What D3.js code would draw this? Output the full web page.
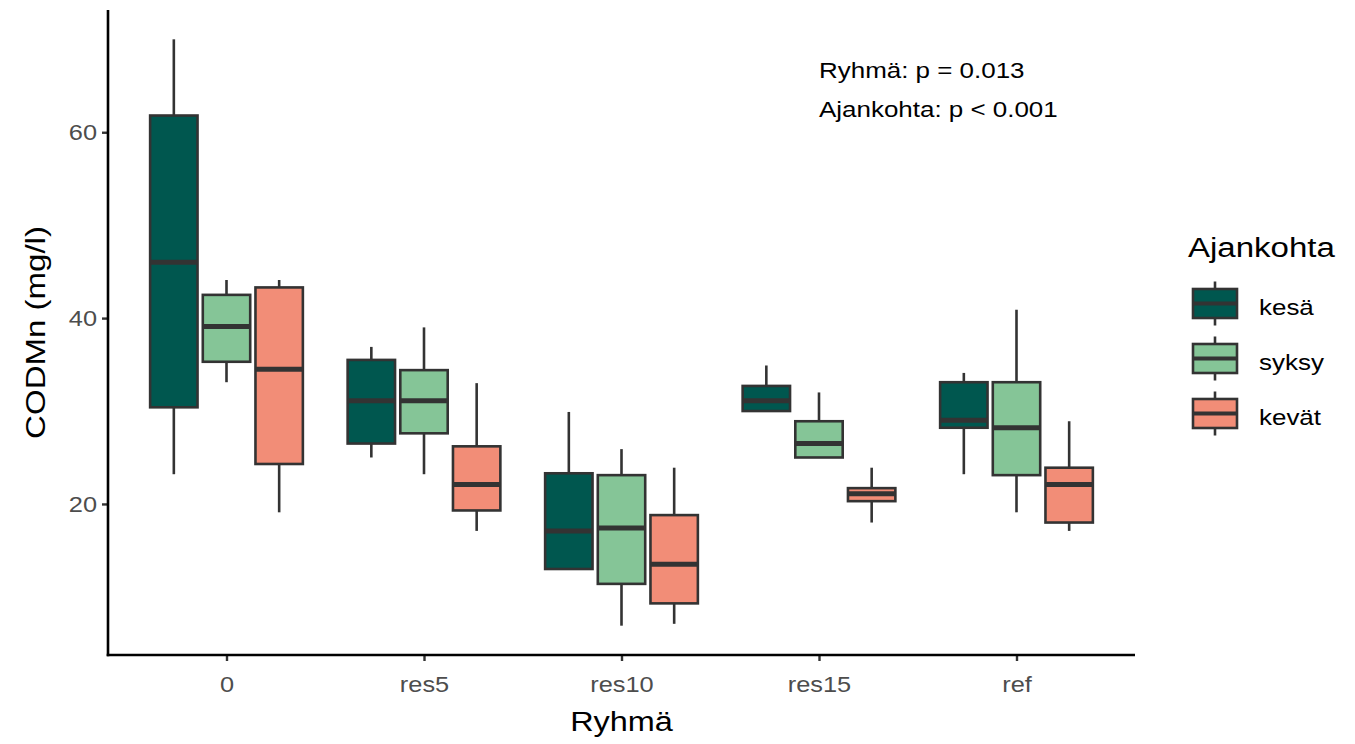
<!DOCTYPE html>
<html>
<head>
<meta charset="utf-8">
<script src="https://cdn.jsdelivr.net/npm/d3@7"></script>
<style>
  body { margin: 0; background: #ffffff; }
  text { font-family: "Liberation Sans", Arial, sans-serif; }
</style>
</head>
<body>
<svg id="chart" width="1355" height="744"></svg>
<script>
// Groups on the x axis and sampling seasons (dodged boxes)
const groups = ["0", "res5", "res10", "res15", "ref"];
const seasons = ["kesä", "syksy", "kevät"];
const seasonColors = ["#00574F", "#85C597", "#F28D77"];

// Box summaries per group: [lower whisker, Q1, median, Q3, upper whisker]
const kesa  = [[23.2, 30.4, 46.0, 61.8, 70.0], [25.0, 26.5, 31.1, 35.5, 36.9], [13.0, 13.0, 17.1, 23.3, 29.9], [30.0, 30.0, 31.1, 32.7, 34.9], [23.2, 28.2, 29.0, 33.1, 34.1]];
const syksy = [[33.1, 35.3, 39.1, 42.5, 44.1], [23.2, 27.6, 31.1, 34.4, 39.0], [6.9, 11.4, 17.4, 23.1, 25.9], [25.0, 25.0, 26.5, 28.9, 32.0], [19.1, 23.1, 28.2, 33.1, 40.9]];
const kevat = [[19.1, 24.3, 34.5, 43.3, 44.1], [17.1, 19.3, 22.1, 26.2, 33.0], [7.1, 9.3, 13.5, 18.8, 23.9], [18.0, 20.3, 21.1, 21.7, 23.9], [17.1, 18.0, 22.1, 23.9, 28.9]];

const yTicks = [20, 40, 60];
const annotations = ["Ryhmä: p = 0.013", "Ajankohta: p < 0.001"];
const xTitle = "Ryhmä";
const yTitle = "CODMn (mg/l)";
const legendTitle = "Ajankohta";

const seriesValues = [kesa, syksy, kevat];

// Layout
const plot = { left: 108, right: 1135, top: 10, bottom: 655 };
const STRETCH = 1.18;          // horizontal widening of the text glyphs
const INK = "#333333";
const LINE_W = 2.6;            // box outline and whisker width
const MED_W = 5;               // median bar width

const svg = d3.select("#chart");

// Scales: discrete x with 0.6 step expansion, continuous y with 5% padding
const x = d3.scalePoint().domain(groups).range([plot.left, plot.right]).padding(0.6);
const step = x.step();
const allVals = seriesValues.flat(2);
const lo = d3.min(allVals), hi = d3.max(allVals);
const pad = (hi - lo) * 0.05;
const y = d3.scaleLinear().domain([lo - pad, hi + pad]).range([plot.bottom, plot.top]);

const dodge = d3.scaleBand().domain(seasons).range([-0.4 * step, 0.4 * step]);
const boxW = dodge.bandwidth() * 0.9;

// helper for widened text
function stretchedText(sel, tx, ty, rot) {
  return sel.attr("transform", `translate(${tx},${ty})` + (rot ? ` rotate(${rot})` : "") + ` scale(${STRETCH},1)`);
}

// Boxes
const boxData = [];
seasons.forEach((s, si) => {
  groups.forEach((g, gi) => {
    const v = seriesValues[si][gi];
    boxData.push({ g, s, si, min: v[0], q1: v[1], med: v[2], q3: v[3], max: v[4] });
  });
});

const boxes = svg.append("g").selectAll("g").data(boxData).join("g")
  .attr("transform", d => `translate(${x(d.g) + dodge(d.s) + dodge.bandwidth() / 2},0)`);

boxes.append("line")
  .attr("x1", 0).attr("x2", 0)
  .attr("y1", d => y(d.q3)).attr("y2", d => y(d.max))
  .attr("stroke", INK).attr("stroke-width", LINE_W);
boxes.append("line")
  .attr("x1", 0).attr("x2", 0)
  .attr("y1", d => y(d.q1)).attr("y2", d => y(d.min))
  .attr("stroke", INK).attr("stroke-width", LINE_W);
boxes.append("rect")
  .attr("x", -boxW / 2).attr("width", boxW)
  .attr("y", d => y(d.q3)).attr("height", d => y(d.q1) - y(d.q3))
  .attr("fill", d => seasonColors[d.si])
  .attr("stroke", INK).attr("stroke-width", LINE_W);
boxes.append("line")
  .attr("x1", -boxW / 2).attr("x2", boxW / 2)
  .attr("y1", d => y(d.med)).attr("y2", d => y(d.med))
  .attr("stroke", INK).attr("stroke-width", MED_W);

// Axes
const yAxis = svg.append("g")
  .attr("transform", `translate(${plot.left},0)`)
  .call(d3.axisLeft(y).tickValues(yTicks).tickSize(6).tickPadding(5));
const xAxis = svg.append("g")
  .attr("transform", `translate(0,${plot.bottom})`)
  .call(d3.axisBottom(x).tickSize(6).tickPadding(6));

[yAxis, xAxis].forEach(a => {
  a.select(".domain").remove();
  a.selectAll(".tick line").attr("stroke", INK).attr("stroke-width", 2.4);
  a.selectAll(".tick text").attr("fill", "#4D4D4D").attr("font-size", 21.5)
    .attr("font-family", "'Liberation Sans', Arial, sans-serif");
});
yAxis.selectAll(".tick text").each(function () {
  const t = d3.select(this);
  const xx = +t.attr("x");
  t.attr("x", null).attr("dy", "0.35em").attr("text-anchor", "end");
  stretchedText(t, xx, 0);
});
xAxis.selectAll(".tick text").each(function () {
  const t = d3.select(this);
  t.attr("y", null).attr("dy", null).attr("text-anchor", "middle");
  stretchedText(t, 0, 37);
});

// Axis lines
svg.append("line").attr("x1", plot.left).attr("x2", plot.left)
  .attr("y1", plot.top).attr("y2", plot.bottom + 1.3)
  .attr("stroke", "#000").attr("stroke-width", 2.6);
svg.append("line").attr("x1", plot.left - 1.3).attr("x2", plot.right)
  .attr("y1", plot.bottom).attr("y2", plot.bottom)
  .attr("stroke", "#000").attr("stroke-width", 2.6);

// Axis titles
stretchedText(svg.append("text").text(xTitle)
  .attr("text-anchor", "middle").attr("font-size", 27.5).attr("fill", "#000"),
  (plot.left + plot.right) / 2, 731);
stretchedText(svg.append("text").text(yTitle)
  .attr("text-anchor", "middle").attr("font-size", 28).attr("fill", "#000"),
  45, (plot.top + plot.bottom) / 2, -90);

// Test annotation
svg.append("g").selectAll("text").data(annotations).join("text")
  .text(d => d)
  .attr("font-size", 22).attr("fill", "#000")
  .each(function (d, i) { stretchedText(d3.select(this), 819, 78 + i * 39); });

// Legend
const legend = svg.append("g");
stretchedText(legend.append("text").text(legendTitle)
  .attr("font-size", 28).attr("fill", "#000"), 1188, 257);

const keyW = 44, keyH = 29, keyGap = 55, keyX = 1193, keyY0 = 303.5;
const keys = legend.selectAll("g.key").data(seasons).join("g")
  .attr("class", "key")
  .attr("transform", (d, i) => `translate(${keyX},${keyY0 + i * keyGap})`);
keys.append("line").attr("x1", keyW / 2).attr("x2", keyW / 2)
  .attr("y1", -22).attr("y2", 22).attr("stroke", INK).attr("stroke-width", LINE_W);
keys.append("rect").attr("x", 0).attr("y", -keyH / 2)
  .attr("width", keyW).attr("height", keyH)
  .attr("fill", (d, i) => seasonColors[i]).attr("stroke", INK).attr("stroke-width", LINE_W);
keys.append("line").attr("x1", 0).attr("x2", keyW)
  .attr("y1", 0).attr("y2", 0).attr("stroke", INK).attr("stroke-width", 4);
keys.append("text").text(d => d)
  .attr("font-size", 22).attr("fill", "#000")
  .attr("transform", `translate(${1259 - keyX},11) scale(${STRETCH},1)`);
</script>
</body>
</html>
